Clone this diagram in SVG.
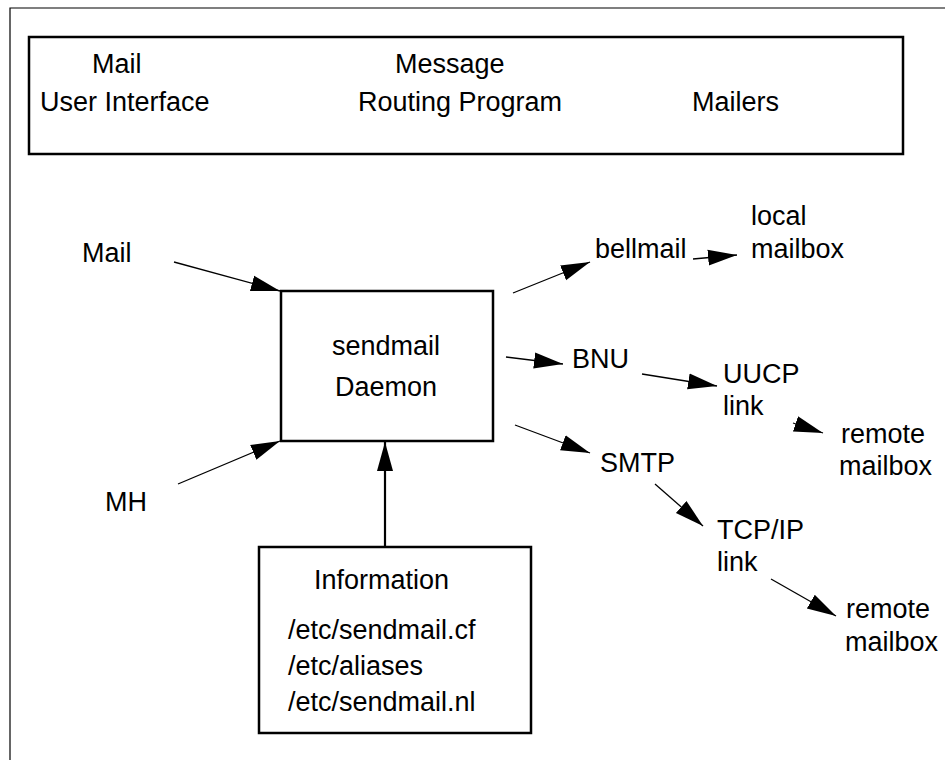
<svg xmlns="http://www.w3.org/2000/svg" width="945" height="760" viewBox="0 0 945 760">
<defs>
<style>
text{font-family:"Liberation Sans",Arial,Helvetica,sans-serif;font-size:27px;fill:#000}
.box{fill:#fff;stroke:#000;stroke-width:2.5}
.frame{fill:none;stroke:#000;stroke-width:1.2}
.conn line{stroke:#000;stroke-width:1.3}
.mid{text-anchor:middle}
</style>
<marker id="ah" markerUnits="userSpaceOnUse" markerWidth="30" markerHeight="18" viewBox="0 0 30 18" refX="29" refY="9" orient="auto">
<path d="M0,1 L29,9 L0,17 z" fill="#000"/>
</marker>
</defs>
<rect width="945" height="760" fill="#fff"/>
<path class="frame" d="M10,760 L10,8 L945,8"/>
<g id="layers">
<rect class="box" x="29" y="37" width="874" height="117"/>
<text x="92" y="73">Mail</text>
<text x="40" y="111">User Interface</text>
<text x="395" y="73">Message</text>
<text x="358" y="111">Routing Program</text>
<text x="692" y="111">Mailers</text>
</g>
<g id="sendmail">
<rect class="box" x="281" y="291" width="212" height="150"/>
<text class="mid" x="386" y="355">sendmail</text>
<text class="mid" x="386" y="396">Daemon</text>
</g>
<g id="information">
<rect class="box" x="259" y="547" width="272" height="186"/>
<text x="314" y="589">Information</text>
<text x="288" y="639">/etc/sendmail.cf</text>
<text x="288" y="675">/etc/aliases</text>
<text x="288" y="711">/etc/sendmail.nl</text>
</g>
<g id="mail"><text x="82" y="262">Mail</text></g>
<g id="mh"><text x="105" y="511">MH</text></g>
<g id="bellmail"><text x="595" y="258">bellmail</text></g>
<g id="localmailbox"><text x="751" y="225">local</text><text x="751" y="258">mailbox</text></g>
<g id="bnu"><text x="572" y="368">BNU</text></g>
<g id="uucp"><text x="723" y="383">UUCP</text><text x="723" y="415">link</text></g>
<g id="remote1"><text x="841" y="443">remote</text><text x="839" y="475">mailbox</text></g>
<g id="smtp"><text x="600" y="472">SMTP</text></g>
<g id="tcpip"><text x="717" y="539">TCP/IP</text><text x="717" y="571">link</text></g>
<g id="remote2"><text x="846" y="618">remote</text><text x="845" y="651">mailbox</text></g>
<g id="connectors" class="conn">
<line x1="174" y1="262" x2="280" y2="291" marker-end="url(#ah)"/>
<line x1="178" y1="484" x2="280" y2="441" marker-end="url(#ah)"/>
<line x1="385" y1="547" x2="385" y2="442" style="stroke-width:2.2" marker-end="url(#ah)"/>
<line x1="513" y1="293" x2="590" y2="262" marker-end="url(#ah)"/>
<line x1="693" y1="259" x2="737" y2="255" marker-end="url(#ah)"/>
<line x1="506" y1="357" x2="563" y2="364" marker-end="url(#ah)"/>
<line x1="642" y1="374" x2="717" y2="386" marker-end="url(#ah)"/>
<line x1="793" y1="423" x2="823" y2="433" marker-end="url(#ah)"/>
<line x1="515" y1="425" x2="590" y2="453" marker-end="url(#ah)"/>
<line x1="655" y1="484" x2="703" y2="526" marker-end="url(#ah)"/>
<line x1="771" y1="579" x2="836" y2="616" marker-end="url(#ah)"/>
</g>
</svg>
